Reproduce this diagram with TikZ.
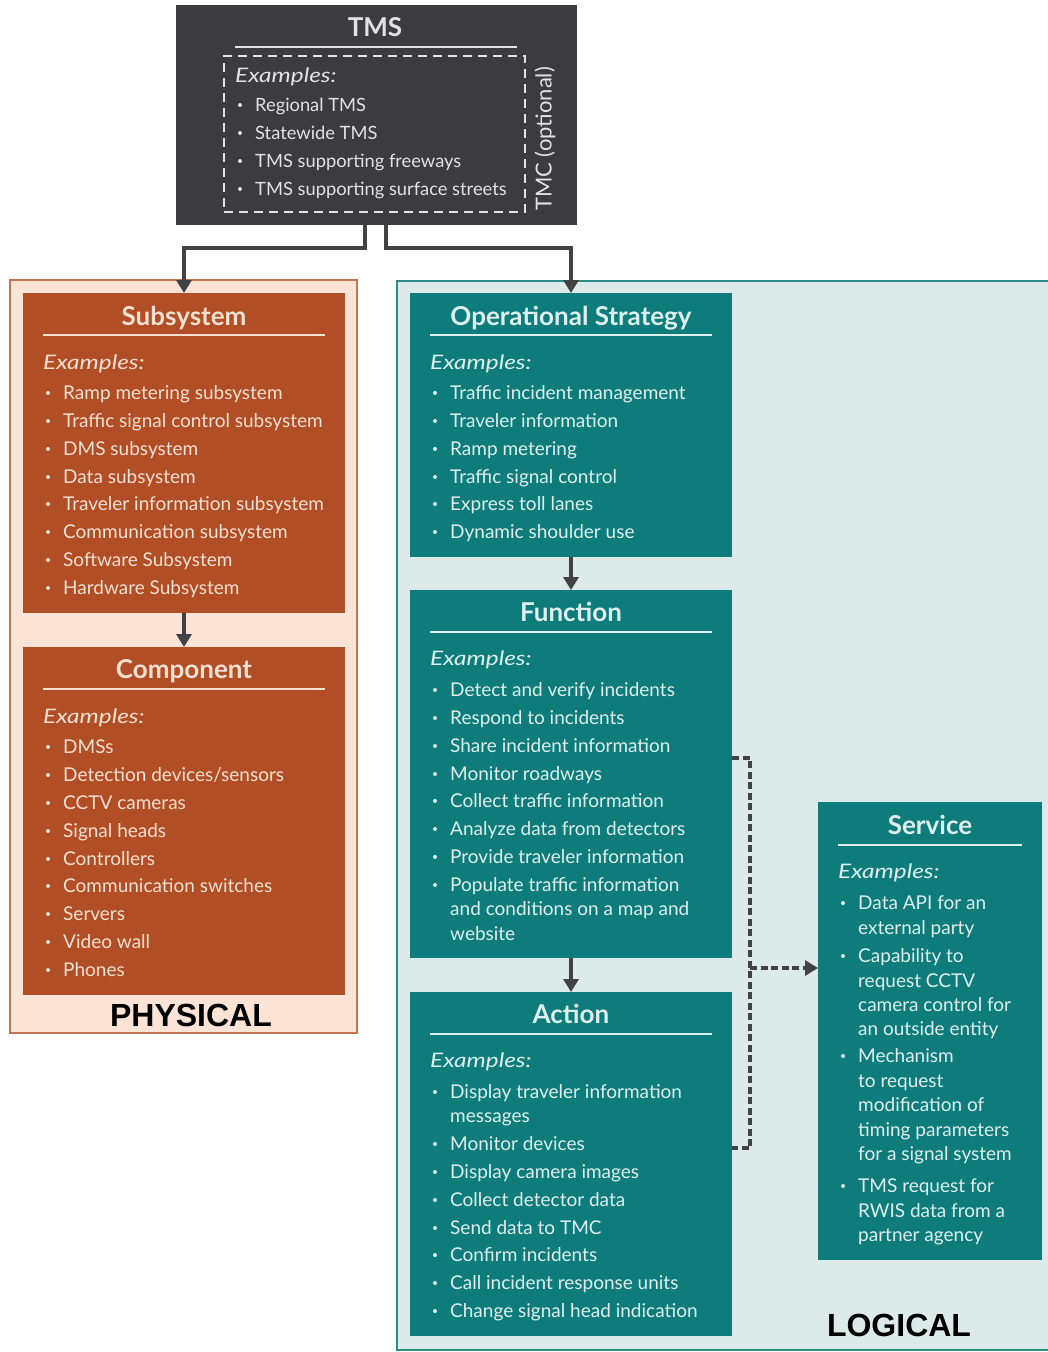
\documentclass[tikz,border=0pt]{standalone}
\usepackage{fontspec}
\setmainfont{Lato}
\newfontfamily\labelfont{Liberation Sans}
\usetikzlibrary{arrows.meta}
\definecolor{tmsgray}{HTML}{3C3C3E}
\definecolor{rust}{HTML}{B24E25}
\definecolor{peach}{HTML}{FBE4D5}
\definecolor{rustedge}{HTML}{C27450}
\definecolor{tealbox}{HTML}{0E7C7B}
\definecolor{lightteal}{HTML}{DCEBEA}
\definecolor{tealedge}{HTML}{2E8B8A}
\definecolor{conngray}{HTML}{424244}
\definecolor{txtgray}{HTML}{E2E2E2}
\definecolor{txtrust}{HTML}{F5E0D2}
\definecolor{txtteal}{HTML}{DDF0EE}
\tikzset{
  box/.style={anchor=north west,inner sep=0pt,outer sep=0pt},
  itemtext/.style={anchor=base west,inner sep=0pt,font=\fontsize{19}{22}\selectfont},
  extext/.style={anchor=base west,inner sep=0pt,font=\fontsize{20}{24}\selectfont\itshape},
  titletext/.style={anchor=base,inner sep=0pt,font=\fontsize{26}{30}\selectfont\bfseries},
  tline/.style={line width=2.5pt},
  conn/.style={draw=conngray,line width=3.5pt,-{Triangle[length=13pt,width=15pt]}},
  dashconn/.style={draw=conngray,line width=3.5pt,dash pattern=on 7pt off 3.5pt},
  biglabel/.style={inner sep=0pt,font=\labelfont\fontsize{32}{36}\selectfont\bfseries,text=black},
}
\newcommand\bitem[4]{\fill (#2-15,#3+1) circle (2); \node[itemtext] (#1) at (#2,#3+7) {#4};}
\newcommand\citem[4]{\node[itemtext] (#1) at (#2,#3+7) {#4};}
\newcommand\exmp{\scalebox{1.22}[1]{Examples:}}
\begin{document}
\begin{tikzpicture}[x=1pt,y=-1pt]
\useasboundingbox (0,0) rectangle (1048,1352);
\fill[white] (0,0) rectangle (1048,1352);

% ---------- TMS ----------
\node[box,fill=tmsgray,minimum width=401pt,minimum height=220pt] (tms) at (176,5) {};
\begin{scope}[color=txtgray,text=txtgray]
\node[titletext] (tmsT) at (375,36) {TMS};
\draw[tline,draw=txtgray] (235,47) -- (517,47);
\node[box,draw=txtgray,line width=2.5pt,dash pattern=on 9pt off 6pt,minimum width=301pt,minimum height=156pt] (tmsdash) at (224,56) {};
\node[extext] (tmsEx) at (235,82) {\exmp};
\begin{scope}[itemtext/.append style={font=\fontsize{18.3}{22}\selectfont}]
\bitem{tms1}{255}{104}{Regional TMS}
\bitem{tms2}{255}{132}{Statewide TMS}
\bitem{tms3}{255}{160}{TMS supporting freeways}
\bitem{tms4}{255}{188}{TMS supporting surface streets}
\end{scope}
\node[inner sep=0pt,rotate=90,font=\fontsize{22}{26}\selectfont] (tmc) at (545,139) {TMC (optional)};
\end{scope}

% ---------- PHYSICAL ----------
\node[box,fill=peach,draw=rustedge,line width=2pt,minimum width=347pt,minimum height=753pt] (phys) at (10,280) {};
\node[box,fill=rust,minimum width=322pt,minimum height=320pt] (subsys) at (23,293) {};
\node[box,fill=rust,minimum width=322pt,minimum height=348pt] (comp) at (23,647) {};
\begin{scope}[color=txtrust,text=txtrust]
\node[titletext] (subsysT) at (184,325) {Subsystem};
\draw[tline] (43,335) -- (325,335);
\node[extext] (subsysEx) at (43,369) {\exmp};
\bitem{s1}{63}{392}{Ramp metering subsystem}
\bitem{s2}{63}{420}{Traffic signal control subsystem}
\bitem{s3}{63}{448}{DMS subsystem}
\bitem{s4}{63}{476}{Data subsystem}
\bitem{s5}{63}{503}{Traveler information subsystem}
\bitem{s6}{63}{531}{Communication subsystem}
\bitem{s7}{63}{559}{Software Subsystem}
\bitem{s8}{63}{587}{Hardware Subsystem}
\node[titletext] (compT) at (184,678) {Component};
\draw[tline] (43,689) -- (325,689);
\node[extext] (compEx) at (43,723) {\exmp};
\bitem{c1}{63}{746}{DMSs}
\bitem{c2}{63}{774}{Detection devices/sensors}
\bitem{c3}{63}{802}{CCTV cameras}
\bitem{c4}{63}{830}{Signal heads}
\bitem{c5}{63}{858}{Controllers}
\bitem{c6}{63}{885}{Communication switches}
\bitem{c7}{63}{913}{Servers}
\bitem{c8}{63}{941}{Video wall}
\bitem{c9}{63}{969}{Phones}
\end{scope}
\node[biglabel] (physL) at (191,1015) {PHYSICAL};

% ---------- LOGICAL ----------
\node[box,fill=lightteal,draw=tealedge,line width=2pt,minimum width=660pt,minimum height=1069pt] (logi) at (397,281) {};
\node[box,fill=tealbox,minimum width=322pt,minimum height=264pt] (ops) at (410,293) {};
\node[box,fill=tealbox,minimum width=322pt,minimum height=368pt] (func) at (410,590) {};
\node[box,fill=tealbox,minimum width=322pt,minimum height=344pt] (action) at (410,992) {};
\node[box,fill=tealbox,minimum width=224pt,minimum height=458pt] (service) at (818,802) {};
\begin{scope}[color=txtteal,text=txtteal]
\node[titletext] (opsT) at (571,325) {Operational Strategy};
\draw[tline] (430,335) -- (712,335);
\node[extext] (opsEx) at (430,369) {\exmp};
\bitem{o1}{450}{392}{Traffic incident management}
\bitem{o2}{450}{420}{Traveler information}
\bitem{o3}{450}{448}{Ramp metering}
\bitem{o4}{450}{476}{Traffic signal control}
\bitem{o5}{450}{503}{Express toll lanes}
\bitem{o6}{450}{531}{Dynamic shoulder use}
\node[titletext] (funcT) at (571,621) {Function};
\draw[tline] (430,632) -- (712,632);
\node[extext] (funcEx) at (430,665) {\exmp};
\bitem{f1}{450}{689}{Detect and verify incidents}
\bitem{f2}{450}{717}{Respond to incidents}
\bitem{f3}{450}{745}{Share incident information}
\bitem{f4}{450}{773}{Monitor roadways}
\bitem{f5}{450}{800}{Collect traffic information}
\bitem{f6}{450}{828}{Analyze data from detectors}
\bitem{f7}{450}{856}{Provide traveler information}
\bitem{f8}{450}{884}{Populate traffic information}
\citem{f8b}{450}{908}{and conditions on a map and}
\citem{f8c}{450}{933}{website}
\node[titletext] (actT) at (571,1023) {Action};
\draw[tline] (430,1034) -- (712,1034);
\node[extext] (actEx) at (430,1067) {\exmp};
\bitem{a1}{450}{1091}{Display traveler information}
\citem{a1b}{450}{1115}{messages}
\bitem{a2}{450}{1143}{Monitor devices}
\bitem{a3}{450}{1171}{Display camera images}
\bitem{a4}{450}{1199}{Collect detector data}
\bitem{a5}{450}{1227}{Send data to TMC}
\bitem{a6}{450}{1254}{Confirm incidents}
\bitem{a7}{450}{1282}{Call incident response units}
\bitem{a8}{450}{1310}{Change signal head indication}
\node[titletext] (servT) at (930,834) {Service};
\draw[tline] (838,845) -- (1022,845);
\node[extext] (servEx) at (838,878) {\exmp};
\bitem{v1}{858}{902}{Data API for an}
\citem{v1b}{858}{927}{external party}
\bitem{v2}{858}{955}{Capability to}
\citem{v2b}{858}{980}{request CCTV}
\citem{v2c}{858}{1004}{camera control for}
\citem{v2d}{858}{1028}{an outside entity}
\bitem{v3}{858}{1055}{Mechanism}
\citem{v3b}{858}{1080}{to request}
\citem{v3c}{858}{1104}{modification of}
\citem{v3d}{858}{1129}{timing parameters}
\citem{v3e}{858}{1153}{for a signal system}
\bitem{v4}{858}{1185}{TMS request for}
\citem{v4b}{858}{1210}{RWIS data from a}
\citem{v4c}{858}{1234}{partner agency}
\end{scope}
\node[biglabel] (logL) at (899,1325) {LOGICAL};

% ---------- connectors ----------
\coordinate (tl) at (365,248);
\coordinate (tr) at (386,248);
\draw[conn] (tl |- tms.south) -- (tl) -| (subsys.north);
\draw[conn] (tr |- tms.south) -- (tr) -| (ops.north);
\draw[conn] (subsys.south) -- (comp.north);
\draw[conn] (ops.south) -- (func.north);
\draw[conn] (func.south) -- (action.north);
\coordinate (d1) at (750,758);
\coordinate (d2) at (750,1148);
\coordinate (d3) at (750,968);
\draw[dashconn] (d1 -| func.east) -- (d1) -- (d2) -- (d2 -| action.east);
\draw[dashconn,-{Triangle[length=13pt,width=15pt]}] (d3) -- (d3 -| service.west);
\end{tikzpicture}
\end{document}
